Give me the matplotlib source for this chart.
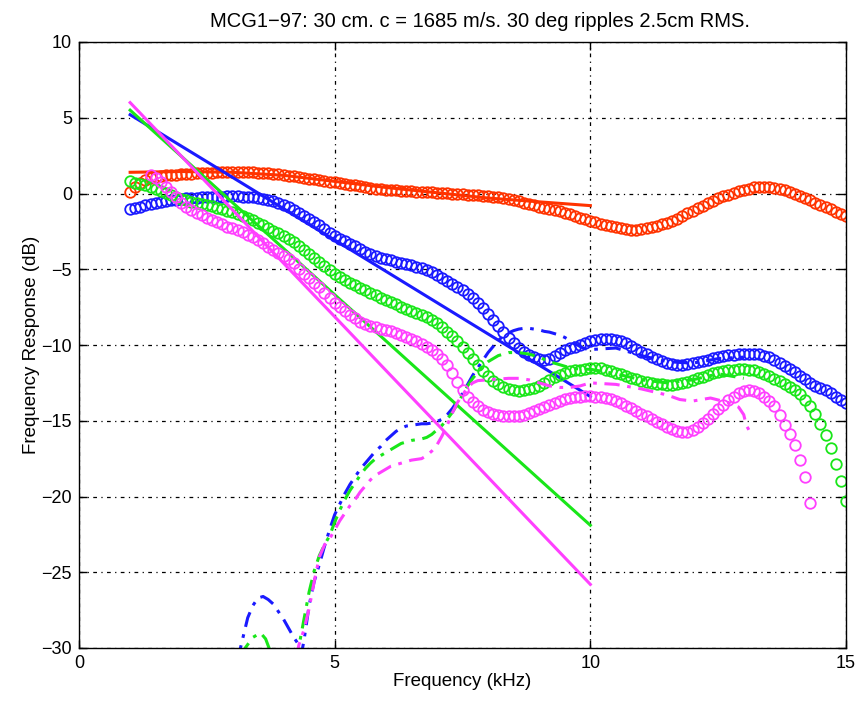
import matplotlib
matplotlib.use('Agg')
import matplotlib.pyplot as plt
import numpy as np

plt.rcParams['font.family'] = ['Liberation Sans', 'DejaVu Sans']

# frequency grids (kHz)
freq = np.arange(10, 151) / 10.0          # 1.0 .. 15.0
freq_mag = np.arange(14, 144) / 10.0      # 1.4 .. 14.3

# measured responses (circles), dB
red_meas = [0.1, 0.45, 0.7, 0.9, 1.0, 1.1, 1.15, 1.2, 1.22, 1.25,
            1.28, 1.3, 1.32, 1.34, 1.36, 1.37, 1.38, 1.39, 1.4, 1.4,
            1.41, 1.41, 1.41, 1.4, 1.4, 1.38, 1.36, 1.33, 1.3, 1.26,
            1.22, 1.18, 1.13, 1.08, 1.03, 0.98, 0.93, 0.88, 0.83, 0.78,
            0.73, 0.68, 0.63, 0.58, 0.53, 0.47, 0.41, 0.37, 0.33, 0.29,
            0.25, 0.22, 0.2, 0.18, 0.16, 0.14, 0.12, 0.1, 0.08, 0.07,
            0.05, 0.03, 0.01, -0.01, -0.03, -0.05, -0.08, -0.1, -0.13, -0.16,
            -0.19, -0.22, -0.25, -0.3, -0.36, -0.43, -0.51, -0.6, -0.7, -0.78,
            -0.86, -0.94, -1.02, -1.1, -1.18, -1.26, -1.36, -1.48, -1.6, -1.7,
            -1.8, -1.9, -1.99, -2.08, -2.16, -2.24, -2.3, -2.35, -2.38, -2.38,
            -2.35, -2.3, -2.23, -2.14, -2.04, -1.93, -1.8, -1.66, -1.5, -1.32,
            -1.14, -0.96, -0.8, -0.64, -0.48, -0.33, -0.19, -0.07, 0.05, 0.15,
            0.25, 0.33, 0.4, 0.44, 0.45, 0.43, 0.38, 0.3, 0.2, 0.08,
            -0.05, -0.18, -0.32, -0.46, -0.6, -0.74, -0.89, -1.04, -1.2, -1.35,
            -1.5]

blue_meas = [-1.05, -0.95, -0.86, -0.78, -0.7, -0.63, -0.56, -0.5, -0.45, -0.4,
             -0.36, -0.33, -0.3, -0.27, -0.25, -0.23, -0.21, -0.2, -0.2, -0.19,
             -0.19, -0.19, -0.2, -0.2, -0.22, -0.27, -0.34, -0.42, -0.52, -0.63,
             -0.75, -0.9, -1.08, -1.28, -1.5, -1.7, -1.9, -2.1, -2.33, -2.58,
             -2.82, -3.0, -3.16, -3.32, -3.48, -3.66, -3.86, -4.02, -4.14, -4.24,
             -4.33, -4.42, -4.5, -4.58, -4.66, -4.75, -4.84, -4.94, -5.05, -5.17,
             -5.35, -5.55, -5.77, -6.0, -6.2, -6.4, -6.65, -6.92, -7.2, -7.55,
             -7.95, -8.35, -8.75, -9.15, -9.55, -9.9, -10.2, -10.45, -10.65, -10.82,
             -10.95, -11.0, -10.9, -10.72, -10.52, -10.36, -10.22, -10.1, -10.0, -9.88,
             -9.76, -9.66, -9.6, -9.58, -9.6, -9.65, -9.76, -9.9, -10.08, -10.28,
             -10.46, -10.62, -10.78, -10.92, -11.05, -11.16, -11.24, -11.29, -11.3, -11.27,
             -11.21, -11.13, -11.04, -10.96, -10.89, -10.82, -10.74, -10.68, -10.63, -10.6,
             -10.58, -10.57, -10.58, -10.62, -10.7, -10.82, -10.98, -11.18, -11.4, -11.6,
             -11.8, -12.02, -12.25, -12.5, -12.7, -12.86, -13.0, -13.18, -13.4, -13.6,
             -13.85]

green_meas = [0.8, 0.72, 0.64, 0.53, 0.42, 0.3, 0.17, 0.04, -0.1, -0.22,
              -0.34, -0.44, -0.53, -0.61, -0.69, -0.77, -0.85, -0.94, -1.03, -1.13,
              -1.24, -1.36, -1.48, -1.61, -1.75, -1.92, -2.1, -2.28, -2.45, -2.62,
              -2.8, -3.0, -3.22, -3.47, -3.75, -4.0, -4.25, -4.5, -4.76, -5.03,
              -5.3, -5.52, -5.72, -5.9, -6.07, -6.22, -6.38, -6.55, -6.72, -6.88,
              -7.03, -7.17, -7.32, -7.46, -7.6, -7.73, -7.86, -8.0, -8.16, -8.35,
              -8.58, -8.84, -9.12, -9.42, -9.74, -10.1, -10.5, -10.9, -11.3, -11.7,
              -12.05, -12.35, -12.58, -12.76, -12.9, -12.98, -13.02, -13.0, -12.93, -12.82,
              -12.68, -12.5, -12.32, -12.14, -11.97, -11.82, -11.72, -11.66, -11.62, -11.58,
              -11.55, -11.53, -11.55, -11.62, -11.72, -11.83, -11.94, -12.05, -12.16, -12.26,
              -12.35, -12.43, -12.5, -12.55, -12.59, -12.61, -12.61, -12.58, -12.52, -12.44,
              -12.33, -12.2, -12.08, -11.97, -11.88, -11.8, -11.74, -11.68, -11.64, -11.61,
              -11.6, -11.62, -11.68, -11.78, -11.92, -12.06, -12.22, -12.4, -12.56, -12.74,
              -12.95, -13.25, -13.6, -14.0, -14.55, -15.2, -15.95, -16.8, -17.85, -19.0,
              -20.3]

mag_meas = [1.25, 1.0, 0.75, 0.45, 0.12, -0.25,
            -0.6, -0.9, -1.1, -1.28, -1.44, -1.59, -1.73, -1.88, -2.04, -2.18,
            -2.3, -2.43, -2.57, -2.73, -2.9, -3.1, -3.3, -3.5, -3.72, -3.92,
            -4.1, -4.32, -4.62, -4.96, -5.3, -5.6, -5.9, -6.2, -6.55, -6.92,
            -7.25, -7.52, -7.77, -8.0, -8.22, -8.45, -8.62, -8.74, -8.84, -8.93,
            -9.02, -9.1, -9.2, -9.32, -9.46, -9.6, -9.76, -9.94, -10.12, -10.33,
            -10.58, -10.9, -11.3, -11.85, -12.45, -13.0, -13.4, -13.75, -14.05, -14.28,
            -14.45, -14.57, -14.64, -14.69, -14.71, -14.71, -14.68, -14.6, -14.5, -14.38,
            -14.24, -14.1, -13.96, -13.82, -13.69, -13.58, -13.5, -13.44, -13.4, -13.38,
            -13.38, -13.4, -13.43, -13.48, -13.56, -13.68, -13.83, -14.0, -14.18, -14.36,
            -14.53, -14.7, -14.88, -15.06, -15.23, -15.4, -15.55, -15.66, -15.72, -15.72,
            -15.62, -15.43, -15.17, -14.88, -14.56, -14.25, -13.94, -13.65, -13.4, -13.2,
            -13.06, -13.0, -13.05, -13.2, -13.42, -13.68, -14.05, -14.6, -15.25, -15.9,
            -16.6, -17.6, -18.7, -20.4]

# model fits (solid lines), 1..10 kHz
fit_freq = [1.0, 2.0, 3.0, 4.0, 5.0, 6.0, 7.0, 8.0, 9.0, 10.0]
red_fit = [1.4, 1.45, 1.4, 1.2, 0.8, 0.4, 0.05, -0.3, -0.55, -0.8]
blue_fit = [5.2, 3.13, 1.07, -1.0, -3.07, -5.13, -7.2, -9.27, -11.33, -13.4]
green_fit = [5.5, 2.46, -0.59, -3.63, -6.68, -9.72, -12.77, -15.81, -18.86, -21.9]
mag_fit = [6.0, 2.47, -1.07, -4.6, -8.13, -11.67, -15.2, -18.73, -22.27, -25.8]

# dash-dot curves
blue_dd_f = [3.1, 3.2, 3.3, 3.4, 3.5, 3.6, 3.7, 3.8, 3.9, 4.0, 4.1, 4.2, 4.3, 4.35,
             4.4, 4.5, 4.6, 4.7, 4.8, 4.9, 5.0, 5.1, 5.2, 5.3, 5.4, 5.5, 5.6, 5.7,
             5.8, 5.9, 6.0, 6.1, 6.2, 6.3, 6.4, 6.5, 6.6, 6.7, 6.8, 6.9, 7.0, 7.1,
             7.2, 7.3, 7.4, 7.5, 7.6, 7.7, 7.8, 7.9, 8.0, 8.1, 8.2, 8.3, 8.4, 8.5,
             8.6, 8.7, 8.8, 8.9, 9.0, 9.1, 9.2, 9.3, 9.4, 9.5, 9.6, 9.7, 9.8, 9.9,
             10.0, 10.5, 11.0, 11.5, 12.0, 12.5, 13.0]
blue_dd = [-30.8, -29.4, -28.0, -27.2, -26.7, -26.6, -26.8, -27.1, -27.6, -28.1,
           -28.7, -29.3, -29.8, -30.4, -29.5, -27.2, -25.6, -24.5, -23.3, -22.2,
           -21.2, -20.5, -19.8, -19.2, -18.7, -18.2, -17.8, -17.4, -17.0, -16.7,
           -16.3, -16.0, -15.7, -15.5, -15.35, -15.3, -15.25, -15.2, -15.2, -15.15,
           -15.05, -14.9, -14.6, -14.2, -13.7, -13.2, -12.6, -12.0, -11.5, -11.0,
           -10.5, -10.1, -9.7, -9.4, -9.2, -9.05, -8.95, -8.9, -8.9, -8.95,
           -9.0, -9.1, -9.15, -9.25, -9.35, -9.5, -9.7, -9.9, -10.1, -10.25,
           -10.3, -10.2, -10.7, -11.1, -11.2, -10.9, -10.8]

green_dd_f = [3.2, 3.25, 3.4, 3.55, 3.65, 3.75, 3.8, 4.0, 4.2, 4.3, 4.4, 4.5, 4.6,
              4.7, 4.8, 4.9, 5.0, 5.1, 5.2, 5.3, 5.4, 5.5, 5.6, 5.7, 5.8, 5.9,
              6.0, 6.1, 6.2, 6.3, 6.4, 6.5, 6.6, 6.7, 6.8, 6.9, 7.0, 7.1, 7.2,
              7.3, 7.4, 7.5, 7.6, 7.7, 7.8, 7.9, 8.0, 8.1, 8.2, 8.3, 8.4, 8.5,
              8.6, 8.7, 8.8, 8.9, 9.0, 9.2, 9.4, 9.6, 9.8, 10.0, 10.5, 11.0,
              11.5, 12.0, 12.5, 13.0]
green_dd = [-30.6, -30.0, -29.3, -29.0, -29.4, -30.3, -30.8, -32.0, -31.0, -29.9,
            -28.1, -26.3, -24.9, -23.9, -23.2, -22.6, -21.7, -20.9, -20.2, -19.6,
            -19.1, -18.6, -18.15, -17.8, -17.5, -17.3, -17.1, -16.9, -16.7, -16.5,
            -16.4, -16.3, -16.25, -16.2, -16.1, -15.9, -15.6, -15.3, -14.9, -14.45,
            -13.9, -13.3, -12.7, -12.2, -11.8, -11.4, -11.1, -10.9, -10.7, -10.6,
            -10.5, -10.5, -10.5, -10.55, -10.6, -10.7, -10.8, -11.1, -11.3, -11.5,
            -11.6, -11.6, -11.9, -12.3, -12.5, -12.3, -11.9, -12.2]

mag_dd_f = [4.25, 4.3, 4.4, 4.5, 4.6, 4.7, 4.8, 4.9, 5.0, 5.1, 5.2, 5.3, 5.4,
            5.5, 5.6, 5.7, 5.8, 5.9, 6.0, 6.1, 6.2, 6.3, 6.4, 6.5, 6.6, 6.7,
            6.8, 6.9, 7.0, 7.1, 7.2, 7.3, 7.4, 7.5, 7.6, 7.7, 7.8, 8.0, 8.2,
            8.4, 8.6, 8.8, 9.0, 9.2, 9.4, 9.6, 9.8, 10.0, 10.5, 11.0, 11.5,
            11.75, 12.0, 12.35, 12.7, 12.9, 13.0, 13.05, 13.1]
mag_dd = [-30.6, -29.8, -28.8, -27.4, -25.6, -24.0, -23.2, -22.8, -22.2, -21.6,
          -21.1, -20.6, -20.2, -19.7, -19.3, -18.9, -18.6, -18.4, -18.2, -18.0,
          -17.9, -17.8, -17.7, -17.6, -17.55, -17.5, -17.3, -17.0, -16.6, -16.0,
          -15.3, -14.5, -13.8, -13.3, -12.8, -12.5, -12.35, -12.3, -12.25, -12.2,
          -12.2, -12.3, -12.5, -12.7, -12.8, -12.8, -12.7, -12.5, -12.6, -12.9,
          -13.3, -13.6, -13.7, -13.5, -13.8, -14.1, -14.6, -15.3, -15.6]

RED = '#ff3300'
BLUE = '#1a1aff'
GREEN = '#19e619'
MAG = '#ff40ff'
dashdot = (0, (5, 2.5, 1.2, 2.5))

fig = plt.figure(figsize=(8.6, 7.02), dpi=100)
ax = fig.add_axes([79 / 860, 54 / 702, 767 / 860, 606 / 702])

circ = dict(linestyle='none', marker='o', markersize=7.6, markerfacecolor='none',
            markeredgewidth=1.3)

ax.plot(freq, red_meas, color=RED, **circ)
ax.plot(fit_freq, red_fit, color=RED, lw=2.2)

ax.plot(freq, blue_meas, color=BLUE, **circ)
ax.plot(fit_freq, blue_fit, color=BLUE, lw=2.2)
ax.plot(blue_dd_f, blue_dd, color=BLUE, lw=2.2, linestyle=dashdot)

ax.plot(freq, green_meas, color=GREEN, **circ)
ax.plot(fit_freq, green_fit, color=GREEN, lw=2.2)
ax.plot(green_dd_f, green_dd, color=GREEN, lw=2.2, linestyle=dashdot)

ax.plot(freq_mag, mag_meas, color=MAG, **circ)
ax.plot(fit_freq, mag_fit, color=MAG, lw=2.2)
ax.plot(mag_dd_f, mag_dd, color=MAG, lw=2.2, linestyle=dashdot)

ax.set_xlim(0, 15)
ax.set_ylim(-30, 10)
ax.set_xticks([0, 5, 10, 15])
ax.set_yticks([-30, -25, -20, -15, -10, -5, 0, 5, 10])
ax.set_yticklabels(['\u221230', '\u221225', '\u221220', '\u221215', '\u221210',
                    '\u22125', '0', '5', '10'])
ax.grid(True, color='black', linestyle=(0, (3, 3.5, 1, 3.5)), linewidth=0.9)
ax.tick_params(direction='in', top=True, right=True, length=6, width=1,
               labelsize=13, pad=5)
for sp in ax.spines.values():
    sp.set_linewidth(1.0)

ax.set_xlabel('Frequency (kHz)', fontsize=13.5, labelpad=1)
ax.set_ylabel('Frequency Response (dB)', fontsize=13.5, labelpad=1)
ax.set_title('MCG1\u221297: 30 cm. c = 1685 m/s. 30 deg ripples 2.5cm RMS.',
             fontsize=14.5, pad=11, x=0.523)

fig.savefig('out.png', dpi=100)
